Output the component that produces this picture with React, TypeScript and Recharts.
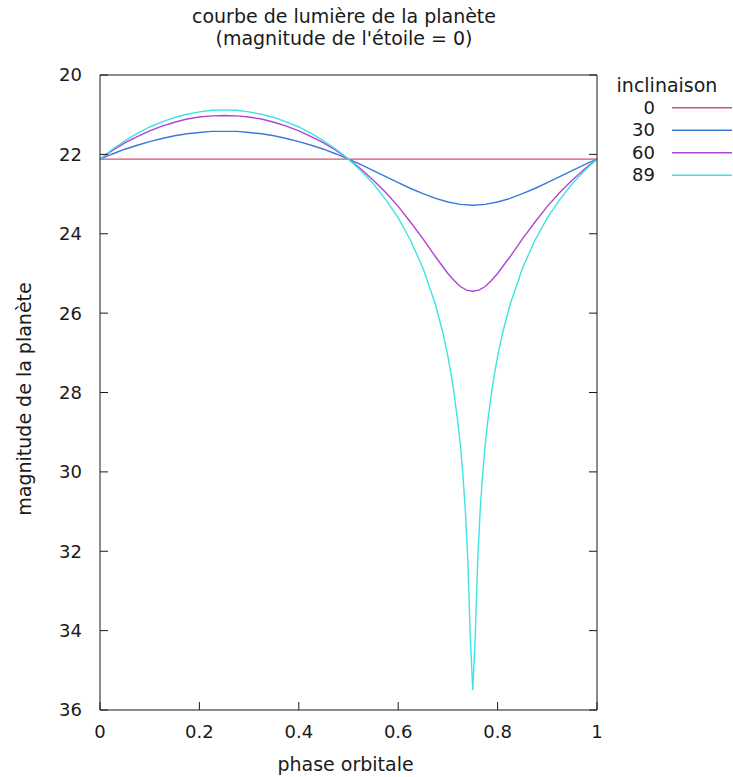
import React from "react";
import { LineChart, Line, XAxis, YAxis, Legend } from "recharts";

// phase orbitale (pas de 0.025)
const phase = [
  0, 0.025, 0.05, 0.075, 0.1, 0.125, 0.15, 0.175, 0.2, 0.225, 0.25,
  0.275, 0.3, 0.325, 0.35, 0.375, 0.4, 0.425, 0.45, 0.475, 0.5,
  0.525, 0.55, 0.575, 0.6, 0.625, 0.65, 0.675, 0.7, 0.725, 0.75,
  0.775, 0.8, 0.825, 0.85, 0.875, 0.9, 0.925, 0.95, 0.975, 1,
];

const mag0 = [
  22.12, 22.12, 22.12, 22.12, 22.12, 22.12, 22.12, 22.12, 22.12, 22.12, 22.12,
  22.12, 22.12, 22.12, 22.12, 22.12, 22.12, 22.12, 22.12, 22.12, 22.12,
  22.12, 22.12, 22.12, 22.12, 22.12, 22.12, 22.12, 22.12, 22.12, 22.12,
  22.12, 22.12, 22.12, 22.12, 22.12, 22.12, 22.12, 22.12, 22.12, 22.12,
];

const mag30 = [
  22.12, 21.99, 21.87, 21.77, 21.68, 21.6, 21.53, 21.48, 21.45, 21.42, 21.42,
  21.42, 21.45, 21.48, 21.53, 21.6, 21.68, 21.77, 21.87, 21.99, 22.12,
  22.26, 22.41, 22.56, 22.71, 22.86, 22.99, 23.11, 23.2, 23.26, 23.28,
  23.26, 23.2, 23.11, 22.99, 22.86, 22.71, 22.56, 22.41, 22.26, 22.12,
];

// 60 deg : un peu plus de points pres du minimum
const phase60 = [
  0, 0.025, 0.05, 0.075, 0.1, 0.125, 0.15, 0.175, 0.2, 0.225, 0.25,
  0.275, 0.3, 0.325, 0.35, 0.375, 0.4, 0.425, 0.45, 0.475, 0.5,
  0.525, 0.55, 0.575, 0.6, 0.625, 0.65, 0.675, 0.7, 0.7125, 0.725, 0.7375, 0.75,
  0.7625, 0.775, 0.7875, 0.8, 0.825, 0.85, 0.875, 0.9, 0.925, 0.95, 0.975, 1,
];

const mag60 = [
  22.12, 21.9, 21.71, 21.55, 21.41, 21.29, 21.19, 21.11, 21.06, 21.03, 21.02,
  21.03, 21.06, 21.11, 21.19, 21.29, 21.41, 21.55, 21.71, 21.9, 22.12,
  22.37, 22.65, 22.96, 23.31, 23.71, 24.13, 24.58, 25.0, 25.18, 25.33, 25.42, 25.45,
  25.42, 25.33, 25.18, 25.0, 24.58, 24.13, 23.71, 23.31, 22.96, 22.65, 22.37, 22.12,
];

// 89 deg : points plus serres autour du creux
const phase89 = [
  0, 0.025, 0.05, 0.075, 0.1, 0.125, 0.15, 0.175, 0.2, 0.225, 0.25,
  0.275, 0.3, 0.325, 0.35, 0.375, 0.4, 0.425, 0.45, 0.475, 0.5,
  0.525, 0.55, 0.575, 0.6, 0.625, 0.65, 0.675, 0.69, 0.7, 0.71, 0.72,
  0.725, 0.73, 0.735, 0.74, 0.745, 0.75, 0.755, 0.76, 0.765, 0.77, 0.775,
  0.78, 0.79, 0.8, 0.81, 0.825, 0.85, 0.875, 0.9, 0.925, 0.95, 0.975, 1,
];

const mag89 = [
  22.12, 21.87, 21.66, 21.47, 21.31, 21.18, 21.07, 20.99, 20.93, 20.89, 20.88,
  20.89, 20.93, 20.99, 21.07, 21.18, 21.31, 21.47, 21.66, 21.87, 22.12,
  22.41, 22.74, 23.14, 23.6, 24.17, 24.87, 25.79, 26.5, 27.09, 27.81, 28.74,
  29.32, 30.04, 30.95, 32.21, 34.15, 35.5, 34.15, 32.21, 30.95, 30.04, 29.32,
  28.74, 27.81, 27.09, 26.5, 25.79, 24.87, 24.17, 23.6, 23.14, 22.74, 22.41, 22.12,
];

const xTicks = [0, 0.2, 0.4, 0.6, 0.8, 1];
const yTicks = [20, 22, 24, 26, 28, 30, 32, 34, 36];

const toRows = (xs: number[], ys: number[]) => xs.map((p, i) => ({ phase: p, mag: ys[i] }));

const series = [
  { name: "0", color: "#d9536a", rows: toRows(phase, mag0) },
  { name: "30", color: "#3a7bd5", rows: toRows(phase, mag30) },
  { name: "60", color: "#b044d4", rows: toRows(phase60, mag60) },
  { name: "89", color: "#3fe3e3", rows: toRows(phase89, mag89) },
];

const FONT = "DejaVu Sans";
const INK = "#1a1a1a";
const tickStyle = { fill: INK, fontSize: 18, fontFamily: FONT };
const noLabel = () => <g />;

const LegendBox = ({ payload }: any) => (
  <svg width={133} height={115} style={{ display: "block" }}>
    <text x={67} y={22} textAnchor="middle" fontSize={19} fontFamily={FONT} fill={INK}>
      inclinaison
    </text>
    {(payload || []).map((entry: any, i: number) => {
      const y = 37.7 + i * 22.5;
      return (
        <g key={entry.value}>
          <text x={55} y={y + 6} textAnchor="end" fontSize={18} fontFamily={FONT} fill={INK}>
            {entry.value}
          </text>
          <line x1={72} x2={132} y1={y} y2={y} stroke={entry.color} strokeWidth={1.4} />
        </g>
      );
    })}
  </svg>
);

export default function App() {
  return (
    <div style={{ position: "absolute", left: 0, top: 0, width: 733, height: 777, background: "#fff" }}>
      <LineChart width={733} height={777} margin={{ top: 74, right: 135, bottom: 66, left: 99 }}>
        <XAxis
          type="number"
          dataKey="phase"
          domain={[0, 1]}
          ticks={xTicks}
          interval={0}
          height={1}
          tickSize={-8}
          tickMargin={23}
          tick={tickStyle}
          axisLine={{ stroke: INK }}
          tickLine={{ stroke: INK }}
        />
        <XAxis
          xAxisId="top"
          orientation="top"
          type="number"
          dataKey="phase"
          domain={[0, 1]}
          ticks={xTicks}
          interval={0}
          height={1}
          tickSize={-8}
          tick={noLabel}
          axisLine={{ stroke: INK }}
          tickLine={{ stroke: INK }}
        />
        <YAxis
          type="number"
          domain={[20, 36]}
          ticks={yTicks}
          interval={0}
          reversed
          allowDataOverflow
          width={1}
          tickSize={-8}
          tickMargin={26}
          tick={tickStyle}
          axisLine={{ stroke: INK }}
          tickLine={{ stroke: INK }}
        />
        <YAxis
          yAxisId="right"
          orientation="right"
          type="number"
          domain={[20, 36]}
          ticks={yTicks}
          interval={0}
          reversed
          allowDataOverflow
          width={1}
          tickSize={-8}
          tick={noLabel}
          axisLine={{ stroke: INK }}
          tickLine={{ stroke: INK }}
        />
        {series.map((s) => (
          <Line
            key={s.name}
            name={s.name}
            data={s.rows}
            dataKey="mag"
            type="linear"
            stroke={s.color}
            strokeWidth={1.4}
            dot={false}
            activeDot={false}
            isAnimationActive={false}
          />
        ))}
        <Legend
          layout="vertical"
          align="center"
          verticalAlign="middle"
          content={<LegendBox />}
          wrapperStyle={{ left: 600, top: 70, width: 133 }}
        />
      </LineChart>
      <svg
        width={733}
        height={777}
        style={{ position: "absolute", left: 0, top: 0, pointerEvents: "none" }}
        fontFamily={FONT}
        fontSize={19}
        fill={INK}
      >
        <text x={344} y={23} textAnchor="middle">courbe de lumière de la planète</text>
        <text x={344} y={45} textAnchor="middle">(magnitude de l'étoile = 0)</text>
        <text x={345.5} y={771} textAnchor="middle">phase orbitale</text>
        <text transform="translate(31, 399) rotate(-90)" textAnchor="middle">magnitude de la planète</text>
      </svg>
    </div>
  );
}
